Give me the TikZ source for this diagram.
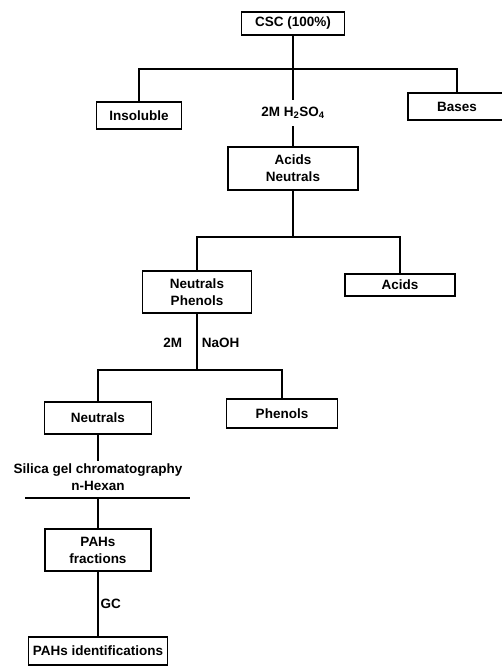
\documentclass[tikz,border=0pt]{standalone}
\usepackage{fontspec}
\setmainfont{Liberation Sans}
\usetikzlibrary{positioning}

\begin{document}
\begin{tikzpicture}[x=1pt,y=-1pt,line width=1.2pt,
  every node/.style={font=\fontsize{13.5}{17}\selectfont\bfseries},
  box/.style={draw,align=center,inner sep=0pt}]
\useasboundingbox (0,0) rectangle (502,666);
% boxes
\node[box,minimum width=103,minimum height=23] (csc) at (293,23.5) {CSC (100\%)};
\node[box,minimum width=85,minimum height=27] (insol) at (139,115.5) {Insoluble};
\node[box,minimum width=98,minimum height=27] (bases) at (457,106.5) {Bases};
\node[box,minimum width=130,minimum height=43] (acneu) at (293,168.5) {Acids\\Neutrals};
\node[box,minimum width=109,minimum height=42] (neuphe) at (197,292) {Neutrals\\Phenols};
\node[box,minimum width=110,minimum height=22] (acids) at (400,285) {Acids};
\node[box,minimum width=107,minimum height=32] (neu) at (98,418) {Neutrals};
\node[box,minimum width=111,minimum height=29] (phen) at (282,413.5) {Phenols};
\node[box,minimum width=106,minimum height=42] (pahf) at (98,550) {PAHs\\fractions};
\node[box,minimum width=139,minimum height=28] (pahid) at (98,651) {PAHs identifications};
% labels
\node[inner xsep=2pt,inner ysep=7pt] (h2so4) at (293,113) {2M H\textsubscript{2}SO\textsubscript{4}};
\node[anchor=east] (twom) at (186,343) {2M};
\node[anchor=west] (naoh) at (198,343) {NaOH};
\node[align=center,inner ysep=2pt] (silica) at (98,477) {Silica gel chromatography\\n-Hexan};
% connectors
\coordinate (j1) at (293,69);
\coordinate (j2) at (293,237);
\coordinate (j3) at (197,370);
\coordinate (rl) at (25,498);
\coordinate (rr) at (190,498);
\draw (csc.south) -- (h2so4.north);
\draw (h2so4.south) -- (acneu.north);
\draw (insol.north) |- (j1) -| (bases.north);
\draw (acneu.south) -- (j2);
\draw (neuphe.north) |- (j2) -| (acids.north);
\draw (neuphe.south) -- (j3);
\draw (neu.north) |- (j3) -| (phen.north);
\draw (neu.south) -- (neu.south |- silica.north);
\draw (rl) -- (rr);
\draw (pahf.north) -- (pahf.north |- rl);
\draw (pahf.south) -- (pahid.north) node[midway,right,inner sep=2pt] (gc) {GC};
\end{tikzpicture}
\end{document}
